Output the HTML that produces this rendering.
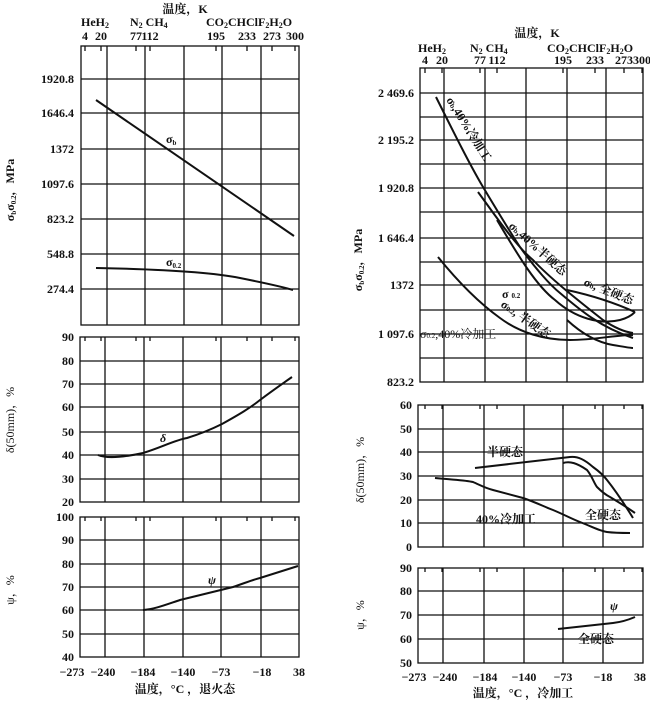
<!DOCTYPE html>
<html><head><meta charset="utf-8"><style>
body{margin:0;background:#fff}
svg{display:block}
text{font-family:"Liberation Serif","Noto Serif CJK SC","Noto Sans CJK SC",serif;font-size:12px;fill:#111;font-weight:bold}
.g{stroke:#111;stroke-width:1.3;fill:none}
.c{stroke:#111;stroke-width:2;fill:none}
</style></head><body>
<svg width="650" height="702" viewBox="0 0 650 702">
<!-- LEFT top axis -->
<text x="185" y="13" text-anchor="middle">温度，K</text>
<text x="81" y="26">HeH<tspan font-size="8" dy="2">2</tspan></text>
<text x="130" y="26">N<tspan font-size="8" dy="2">2</tspan><tspan dy="-2"> CH</tspan><tspan font-size="8" dy="2">4</tspan></text>
<text x="206" y="26">CO<tspan font-size="8" dy="2">2</tspan><tspan dy="-2">CHClF</tspan><tspan font-size="8" dy="2">2</tspan><tspan dy="-2">H</tspan><tspan font-size="8" dy="2">2</tspan><tspan dy="-2">O</tspan></text>
<g text-anchor="middle"><text x="85" y="40">4</text><text x="101" y="40">20</text><text x="136" y="40">77</text><text x="150" y="40">112</text><text x="216" y="40">195</text><text x="247" y="40">233</text><text x="272" y="40">273</text><text x="295" y="40">300</text></g>
<!-- LEFT panel1 -->
<g class="g">
<rect x="81" y="46" width="218" height="279"/>
<path d="M107 46V325M145 46V325M184 46V325M222 46V325M261 46V325"/>
<path d="M81 79H299M81 113H299M81 149H299M81 184H299M81 219H299M81 254H299M81 289H299"/>
<path d="M85 46v5M101 46v5M136 46v5M150 46v5M216 46v5M247 46v5M272 46v5M295 46v5"/>
</g>
<g text-anchor="end"><text x="74" y="83">1920.8</text><text x="74" y="117">1646.4</text><text x="74" y="153">1372</text><text x="74" y="188">1097.6</text><text x="74" y="223">823.2</text><text x="74" y="258">548.8</text><text x="74" y="293">274.4</text></g>
<text transform="translate(14,190) rotate(-90)" text-anchor="middle">σ<tspan font-size="7" dy="2">b</tspan><tspan dy="-2">σ</tspan><tspan font-size="7" dy="2">0.2</tspan><tspan dy="-2">，MPa</tspan></text>
<path class="c" d="M96 100L294 236"/>
<path class="c" d="M96 268Q200 270 240 278T293 290"/>
<text x="166" y="143">σ<tspan font-size="7" dy="2">b</tspan></text>
<text x="166" y="266">σ<tspan font-size="7" dy="2">0.2</tspan></text>
<!-- LEFT panel2 -->
<g class="g">
<rect x="80" y="337" width="219" height="165"/>
<path d="M105 337V502M144 337V502M183 337V502M221 337V502M261 337V502"/>
<path d="M80 361H299M80 384H299M80 407H299M80 432H299M80 455H299M80 479H299"/>
<path d="M85 337v4M101 337v4M136 337v4M150 337v4M216 337v4M247 337v4M272 337v4M295 337v4"/>
</g>
<g text-anchor="end"><text x="74" y="341">90</text><text x="74" y="365">80</text><text x="74" y="388">70</text><text x="74" y="411">60</text><text x="74" y="436">50</text><text x="74" y="459">40</text><text x="74" y="483">30</text><text x="74" y="506">20</text></g>
<text transform="translate(14,420) rotate(-90)" text-anchor="middle" style="font-weight:normal">δ(50mm)，%</text>
<path class="c" d="M98 455C105 458 120 458 143 453C160 448 175 440 187 438C200 434 210 430 222 424C240 414 250 408 260 400C272 391 282 384 292 377"/>
<text x="160" y="442" font-style="italic">δ</text>
<!-- LEFT panel3 -->
<g class="g">
<rect x="80" y="517" width="219" height="140"/>
<path d="M105 517V657M144 517V657M183 517V657M221 517V657M261 517V657"/>
<path d="M80 540H299M80 564H299M80 587H299M80 610H299M80 634H299"/>
<path d="M85 517v4M101 517v4M136 517v4M150 517v4M216 517v4M247 517v4M272 517v4M295 517v4"/>
</g>
<g text-anchor="end"><text x="74" y="521">100</text><text x="74" y="544">90</text><text x="74" y="568">80</text><text x="74" y="591">70</text><text x="74" y="614">60</text><text x="74" y="638">50</text><text x="74" y="661">40</text></g>
<text transform="translate(14,590) rotate(-90)" text-anchor="middle" style="font-weight:normal">ψ，%</text>
<path class="c" d="M143 610C155 609 165 605 180 600L233 587C245 583 252 580 260 578L298 566"/>
<text x="208" y="584" font-style="italic">ψ</text>
<g text-anchor="middle"><text x="72" y="676">−273</text><text x="103" y="676">−240</text><text x="143" y="676">−184</text><text x="183" y="676">−140</text><text x="221" y="676">−73</text><text x="262" y="676">−18</text><text x="299" y="676">38</text></g>
<text x="185" y="693" text-anchor="middle">温度，°C ，退火态</text>

<!-- RIGHT top axis -->
<text x="537" y="37" text-anchor="middle">温度，K</text>
<text x="418" y="52">HeH<tspan font-size="8" dy="2">2</tspan></text>
<text x="470" y="52">N<tspan font-size="8" dy="2">2</tspan><tspan dy="-2"> CH</tspan><tspan font-size="8" dy="2">4</tspan></text>
<text x="547" y="52">CO<tspan font-size="8" dy="2">2</tspan><tspan dy="-2">CHClF</tspan><tspan font-size="8" dy="2">2</tspan><tspan dy="-2">H</tspan><tspan font-size="8" dy="2">2</tspan><tspan dy="-2">O</tspan></text>
<g text-anchor="middle"><text x="425" y="64">4</text><text x="442" y="64">20</text><text x="480" y="64">77</text><text x="497" y="64">112</text><text x="563" y="64">195</text><text x="595" y="64">233</text><text x="624" y="64">273</text><text x="642" y="64">300</text></g>
<g class="g">
<rect x="420" y="68" width="223" height="314"/>
<path d="M444 68V382M485 68V382M526 68V382M567 68V382M606 68V382"/>
<path d="M420 93H643M420 117H643M420 140H643M420 164H643M420 188H643M420 212H643M420 238H643M420 262H643M420 285H643M420 310H643M420 334H643M420 358H643"/>
<path d="M425 68v5M442 68v5M480 68v5M497 68v5M563 68v5M595 68v5M624 68v5M642 68v5"/>
</g>
<g text-anchor="end"><text x="414" y="97">2 469.6</text><text x="414" y="144">2 195.2</text><text x="414" y="192">1 920.8</text><text x="414" y="242">1 646.4</text><text x="414" y="289">1372</text><text x="414" y="338">1 097.6</text><text x="414" y="386">823.2</text></g>
<text transform="translate(362,260) rotate(-90)" text-anchor="middle">σ<tspan font-size="7" dy="2">b</tspan><tspan dy="-2">σ</tspan><tspan font-size="7" dy="2">0.2</tspan><tspan dy="-2">，MPa</tspan></text>
<path class="c" d="M436 97C455 135 470 165 483 187C495 207 510 232 520 247C535 268 550 285 560 293C580 310 600 327 633 338"/>
<path class="c" d="M478 192C495 215 515 245 533 260C550 278 575 298 603 320C615 328 625 332 633 333"/>
<path class="c" d="M567 290C590 295 615 303 635 312"/>
<path class="c" d="M497 220C515 250 535 285 555 300C575 318 600 325 620 320C628 318 632 315 635 312"/>
<path class="c" d="M567 320C580 332 595 342 613 345C625 347 630 348 633 348"/>
<path class="c" d="M438 257C455 278 475 300 500 318C520 333 545 340 570 340C595 340 615 335 633 335"/>
<text transform="translate(446,100) rotate(58)" font-size="11">σ<tspan font-size="7">b</tspan>,40%冷加工</text>
<text transform="translate(508,227) rotate(42)" font-size="11">σ<tspan font-size="7">b</tspan>,40%半硬态</text>
<text transform="translate(583,285) rotate(22)" font-size="11">σ<tspan font-size="7">b</tspan>, 全硬态</text>
<text x="502" y="298" font-size="11">σ <tspan font-size="7">0.2</tspan></text>
<text transform="translate(500,306) rotate(35)" font-size="11">σ<tspan font-size="7">0.2</tspan>, 半硬态</text>
<text x="420" y="338" font-size="11" style="font-weight:normal">σ<tspan font-size="7">0.2</tspan>,40%冷加工</text>
<!-- RIGHT delta -->
<g class="g">
<rect x="418" y="405" width="225" height="142"/>
<path d="M443 405V547M484 405V547M524 405V547M563 405V547M603 405V547"/>
<path d="M418 429H643M418 452H643M418 476H643M418 500H643M418 523H643"/>
<path d="M425 405v4M442 405v4M480 405v4M497 405v4M563 405v4M595 405v4M624 405v4M642 405v4"/>
</g>
<g text-anchor="end"><text x="412" y="409">60</text><text x="412" y="433">50</text><text x="412" y="456">40</text><text x="412" y="480">30</text><text x="412" y="504">20</text><text x="412" y="527">10</text><text x="412" y="551">0</text></g>
<text transform="translate(364,470) rotate(-90)" text-anchor="middle" style="font-weight:normal">δ(50mm)，%</text>
<path class="c" d="M475 468L570 457C578 456 585 460 593 467C600 472 604 476 607 480C615 490 625 505 633 518"/>
<path class="c" d="M563 463C570 461 577 463 587 470C592 476 594 483 597 487C602 492 606 495 610 497C620 503 628 508 635 513"/>
<path class="c" d="M435 478C455 480 465 480 473 482C480 485 485 488 493 490L523 498C535 502 545 507 553 510C565 515 572 519 580 522C595 528 600 531 607 532C615 533 622 533 630 533"/>
<text x="487" y="456" font-size="12">半硬态</text>
<text x="476" y="523" font-size="12">40%冷加工</text>
<text x="585" y="519" font-size="12">全硬态</text>
<!-- RIGHT psi -->
<g class="g">
<rect x="418" y="568" width="225" height="95"/>
<path d="M443 568V663M484 568V663M524 568V663M563 568V663M603 568V663"/>
<path d="M418 591H643M418 615H643M418 639H643"/>
<path d="M425 568v4M442 568v4M480 568v4M497 568v4M563 568v4M595 568v4M624 568v4M642 568v4"/>
</g>
<g text-anchor="end"><text x="412" y="572">90</text><text x="412" y="595">80</text><text x="412" y="619">70</text><text x="412" y="643">60</text><text x="412" y="667">50</text></g>
<text transform="translate(364,615) rotate(-90)" text-anchor="middle" style="font-weight:normal">ψ，%</text>
<path class="c" d="M558 629L613 623C622 622 628 620 635 617"/>
<text x="610" y="610" font-style="italic">ψ</text>
<text x="578" y="643" font-size="12">全硬态</text>
<g text-anchor="middle"><text x="414" y="681">−273</text><text x="445" y="681">−240</text><text x="485" y="681">−184</text><text x="524" y="681">−140</text><text x="563" y="681">−73</text><text x="603" y="681">−18</text><text x="640" y="681">38</text></g>
<text x="523" y="697" text-anchor="middle">温度，°C ，冷加工</text>
</svg>
</body></html>
